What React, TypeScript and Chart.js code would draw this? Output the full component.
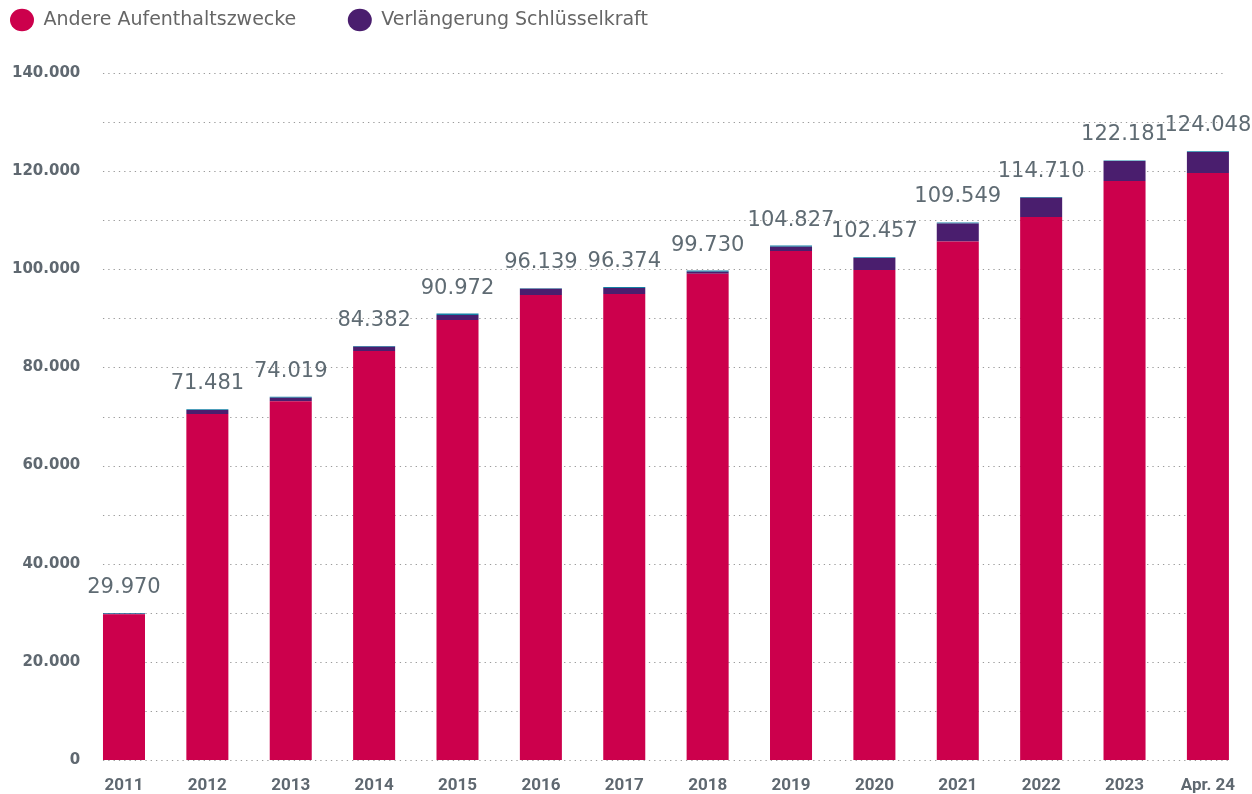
import React, { useEffect, useRef } from 'react';
import { Chart, registerables } from 'chart.js';

Chart.register(...registerables);

const categories = ['2011', '2012', '2013', '2014', '2015', '2016', '2017', '2018', '2019', '2020', '2021', '2022', '2023', 'Apr. 24'];
const andereAufenthaltszwecke = [29700, 70510, 73100, 83350, 89670, 94760, 94970, 99100, 103730, 99860, 105650, 110660, 117990, 119625];
const verlaengerungSchluesselkraft = [120, 800, 700, 880, 1000, 1250, 1200, 400, 850, 2445, 3700, 3930, 4075, 4280];
const weitere = [150, 171, 219, 152, 302, 129, 204, 230, 247, 152, 199, 120, 116, 143];
const totals = [29970, 71481, 74019, 84382, 90972, 96139, 96374, 99730, 104827, 102457, 109549, 114710, 122181, 124048];
const yMax = 140000;
const yLabelStep = 20000;
const yGridStep = 10000;

const fmt = (v: number) => v.toLocaleString('de-DE');

export default function App() {
  const ref = useRef<HTMLCanvasElement | null>(null);

  useEffect(() => {
    if (!ref.current) return;

    const legendHeight = {
      id: 'legendHeight',
      beforeInit(chart: any) {
        const lg = chart.legend;
        if (!lg) return;
        const orig = lg.fit;
        lg.fit = function () {
          orig.call(this);
          this.height = 114;
        };
      },
    };

    const dottedGrid = {
      id: 'dottedGrid',
      beforeDatasetsDraw(chart: any) {
        const { ctx, scales } = chart;
        const y = scales.y;
        const x = scales.x;
        const meta = chart.getDatasetMeta(0);
        const first = meta.data[0];
        const last = meta.data[meta.data.length - 1];
        const left = x.getPixelForValue(0) - first.width / 2;
        const right = x.getPixelForValue(categories.length - 1) + last.width / 2;
        ctx.save();
        ctx.strokeStyle = '#9a9a9a';
        ctx.lineWidth = 1;
        ctx.setLineDash([1.3, 4]);
        for (let v = 0; v <= yMax; v += yGridStep) {
          const py = Math.round(y.getPixelForValue(v)) + 0.5;
          ctx.beginPath();
          ctx.moveTo(left, py);
          ctx.lineTo(right - (v === 0 ? 0 : 4), py);
          ctx.stroke();
        }
        ctx.restore();
      },
    };

    const totalLabels = {
      id: 'totalLabels',
      afterDatasetsDraw(chart: any) {
        const { ctx, scales } = chart;
        ctx.save();
        ctx.font = '21px "DejaVu Sans"';
        ctx.fillStyle = '#5f6b73';
        ctx.textAlign = 'center';
        ctx.textBaseline = 'alphabetic';
        totals.forEach((t, i) => {
          const px = scales.x.getPixelForValue(i);
          const py = scales.y.getPixelForValue(t);
          ctx.fillText(fmt(t), px, py - 20);
        });
        ctx.restore();
      },
    };

    const chart = new Chart(ref.current, {
      type: 'bar',
      data: {
        labels: categories,
        datasets: [
          {
            label: 'Andere Aufenthaltszwecke',
            data: andereAufenthaltszwecke,
            backgroundColor: '#cc004c',
            borderWidth: 0,
          },
          {
            label: 'Verlängerung Schlüsselkraft',
            data: verlaengerungSchluesselkraft,
            backgroundColor: '#4a1e6e',
            borderWidth: 0,
          },
          {
            label: 'Weitere',
            data: weitere,
            backgroundColor: '#137fa4',
            borderWidth: 0,
          },
        ],
      },
      options: {
        animation: false,
        responsive: false,
        maintainAspectRatio: false,
        layout: { padding: { left: -41.5, top: -41, right: 2.4, bottom: 0 } },
        datasets: {
          bar: { categoryPercentage: 1, barPercentage: 0.504 },
        },
        plugins: {
          tooltip: { enabled: false },
          legend: {
            position: 'top',
            align: 'start',
            labels: {
              filter: (item: any) => item.datasetIndex < 2,
              usePointStyle: true,
              pointStyle: 'circle',
              pointStyleWidth: 24,
              boxHeight: 16,
              padding: 51.5,
              color: '#666666',
              font: { family: '"DejaVu Sans"', size: 19 },
            },
          },
        },
        scales: {
          x: {
            stacked: true,
            grid: { display: false, drawTicks: false },
            border: { display: false },
            ticks: {
              padding: 16,
              color: '#5f6870',
              font: { family: '"Liberation Sans Narrow", Roboto, sans-serif', size: 17, weight: 'bold' },
              maxRotation: 0,
              autoSkip: false,
            },
            afterFit: (s: any) => {
              s.height = 34;
            },
          },
          y: {
            stacked: true,
            min: 0,
            max: yMax,
            grid: { display: false, drawTicks: false },
            border: { display: false },
            ticks: {
              stepSize: yLabelStep,
              padding: 2,
              color: '#5f6870',
              font: { family: '"DejaVu Sans"', size: 15, weight: 'bold' },
              callback: (v: any) => fmt(Number(v)),
            },
            afterFit: (s: any) => {
              s.width = 123.8;
            },
          },
        },
      },
      plugins: [legendHeight, dottedGrid, totalLabels],
    } as any);

    return () => chart.destroy();
  }, []);

  return (
    <div style={{ position: 'fixed', left: 0, top: 0, width: 1252, height: 794, background: '#ffffff' }}>
      <canvas ref={ref} width={1252} height={794} style={{ display: 'block' }} />
    </div>
  );
}
